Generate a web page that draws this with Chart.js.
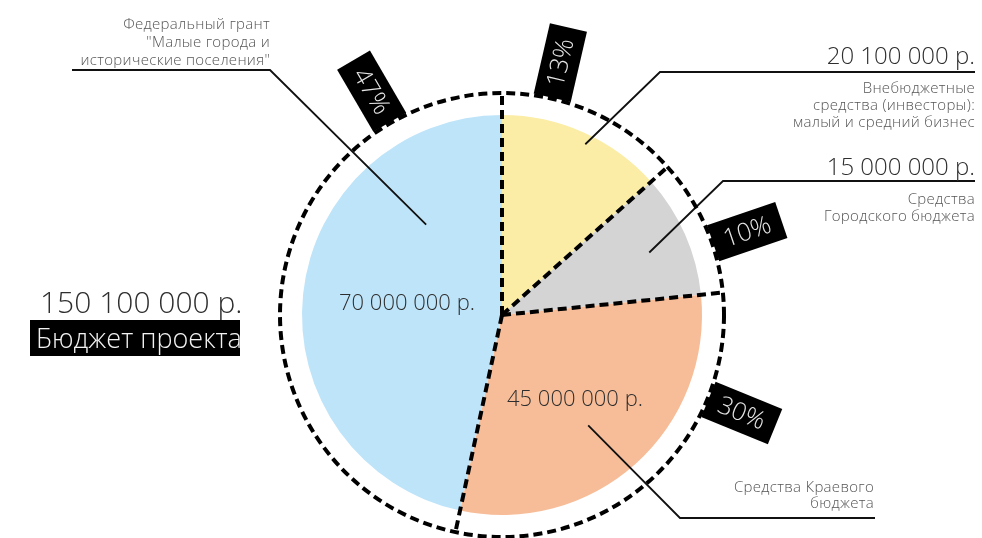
<!DOCTYPE html>
<html>
<head>
<meta charset="utf-8">
<script src="https://cdn.jsdelivr.net/npm/chart.js@4.4.0/dist/chart.umd.min.js"></script>
<style>
  body { margin: 0; background: #fff; }
  #wrap { width: 982px; height: 538px; position: relative; }
</style>
</head>
<body>
<div id="wrap"><canvas id="budget" width="982" height="538"></canvas></div>
<script>
// data
const categories = [
  ['Внебюджетные', 'средства (инвесторы):', 'малый и средний бизнес'],
  ['Средства', 'Городского бюджета'],
  ['Средства Краевого', 'бюджета'],
  ['Федеральный грант', '"Малые города и', 'исторические поселения"']
];
const amounts = [20100000, 15000000, 45000000, 70000000];
const amountLabels = ['20 100 000 р.', '15 000 000 р.', '45 000 000 р.', '70 000 000 р.'];
const percentLabels = ['13%', '10%', '30%', '47%'];
const totalLabel = '150 100 000 р.';
const titleLabel = 'Бюджет проекта';
const colors = ['#FBEDA6', '#D4D4D4', '#F7BD98', '#BEE4F9'];

const FONT = '"Open Sans", sans-serif';

// clock angle (deg from top, clockwise) -> canvas radians
const rad = d => (d - 90) * Math.PI / 180;

const decor = {
  id: 'decor',
  afterDatasetsDraw(chart) {
    const c = chart.ctx;
    const arcs = chart.getDatasetMeta(0).data;
    const cx = arcs[0].x, cy = arcs[0].y, R = arcs[0].outerRadius;
    const ring = R + 22;

    // leader lines: anchor (clock deg, radius), elbow offset from centre, end x
    const leaders = [
      { a: 26, r: 190, ex: 158, ey: -243, end: 975 },
      { a: 67, r: 160, ex: 221, ey: -134, end: 975 },
      { a: 142, r: 140, ex: 178, ey: 203, end: 875 },
      { a: 320, r: 118, ex: -232, ey: -245, end: 72 }
    ];
    c.save();
    c.strokeStyle = '#111';
    c.lineWidth = 1.8;
    leaders.forEach(l => {
      c.beginPath();
      c.moveTo(cx + l.r * Math.cos(rad(l.a)), cy + l.r * Math.sin(rad(l.a)));
      c.lineTo(cx + l.ex, cy + l.ey);
      c.lineTo(l.end, cy + l.ey);
      c.stroke();
    });
    c.restore();

    // dashed ring and dividers
    c.save();
    c.strokeStyle = '#000';
    c.lineWidth = 4;
    c.setLineDash([9, 5]);
    c.beginPath();
    c.arc(cx, cy, ring, 0, Math.PI * 2);
    c.stroke();
    arcs.forEach(a => {
      c.beginPath();
      c.moveTo(cx, cy);
      c.lineTo(cx + ring * Math.cos(a.startAngle), cy + ring * Math.sin(a.startAngle));
      c.stroke();
    });
    c.restore();

    // percent tags
    const tagPos = [0.27, 0.64, 0.26, 0.82];
    arcs.forEach((a, i) => {
      const ang = a.startAngle + (a.endAngle - a.startAngle) * tagPos[i];
      const rc = ring + 37;
      c.save();
      c.translate(cx + rc * Math.cos(ang), cy + rc * Math.sin(ang));
      let rot = ang;
      if (Math.cos(ang) < -0.2) rot += Math.PI;
      c.rotate(rot);
      c.fillStyle = '#000';
      c.fillRect(-36, -19, 72, 38);
      c.fillStyle = '#e6e6e6';
      c.font = '300 25px ' + FONT;
      c.textAlign = 'center';
      c.textBaseline = 'middle';
      c.fillText(percentLabels[i], 0, 1);
      c.restore();
    });

    // texts
    c.save();
    c.textBaseline = 'alphabetic';
    c.fillStyle = '#2e2e2e';
    c.font = '300 24px ' + FONT;
    c.textAlign = 'right';
    c.fillText(amountLabels[0], 975, 64);
    c.fillText(amountLabels[1], 975, 175);
    c.font = '300 22px ' + FONT;
    c.textAlign = 'center';
    c.fillText(amountLabels[3], 407, 310);
    c.fillText(amountLabels[2], 575, 406);

    c.fillStyle = '#555';
    c.font = '300 15px ' + FONT;
    c.letterSpacing = '0.3px';
    c.textAlign = 'right';
    categories[0].forEach((t, k) => c.fillText(t, 975, 93 + k * 17));
    categories[1].forEach((t, k) => c.fillText(t, 975, 204 + k * 17));
    categories[2].forEach((t, k) => c.fillText(t, 874, 492 + k * 16));
    categories[3].forEach((t, k) => c.fillText(t, 270, 29 + k * 18));
    c.letterSpacing = '0px';

    c.fillStyle = '#2e2e2e';
    c.textAlign = 'left';
    c.font = '300 30px ' + FONT;
    c.fillText(totalLabel, 40, 313);
    c.fillStyle = '#000';
    c.fillRect(30, 320, 210, 36);
    c.fillStyle = '#f2f2f2';
    c.font = '300 27px ' + FONT;
    c.fillText(titleLabel, 36, 348);
    c.restore();
  }
};

new Chart(document.getElementById('budget'), {
  type: 'pie',
  data: {
    labels: categories.map(l => l.join(' ')),
    datasets: [{
      data: amounts,
      backgroundColor: colors,
      borderWidth: 0
    }]
  },
  options: {
    responsive: false,
    animation: false,
    layout: { padding: { left: 302, right: 280, top: 115, bottom: 23 } },
    plugins: {
      legend: { display: false },
      tooltip: { enabled: false }
    }
  },
  plugins: [decor]
});
</script>
</body>
</html>
